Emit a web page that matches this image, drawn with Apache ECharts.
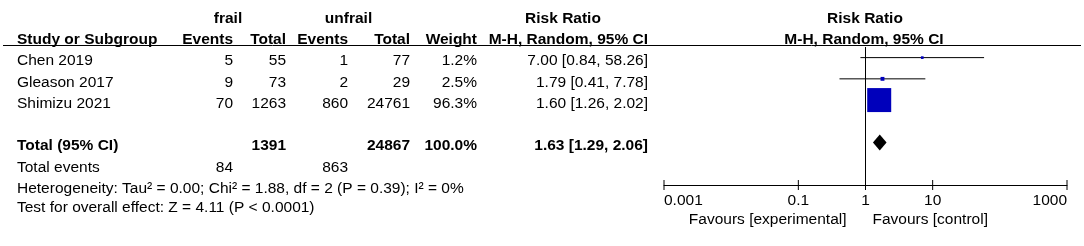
<!DOCTYPE html>
<html><head><meta charset="utf-8">
<script src="https://cdn.jsdelivr.net/npm/echarts@6/dist/echarts.min.js"></script>
<style>html,body{margin:0;padding:0;background:#fff}#c{width:1084px;height:246px}</style>
</head><body><div id="c"></div>
<script>
// ---------- data ----------
const studies = ['Chen 2019', 'Gleason 2017', 'Shimizu 2021'];
const frailEvents = [5, 9, 70];
const frailTotal = [55, 73, 1263];
const unfrailEvents = [1, 2, 860];
const unfrailTotal = [77, 29, 24761];
const weights = [1.2, 2.5, 96.3];
const riskRatio = [7.00, 1.79, 1.60];
const ciLower = [0.84, 0.41, 1.26];
const ciUpper = [58.26, 7.78, 2.02];
const totalLabel = 'Total (95% CI)';
const totalFrail = 1391;
const totalUnfrail = 24867;
const totalWeight = 100.0;
const pooled = [1.63, 1.29, 2.06];
const totalEvents = [84, 863];
const heterogeneityText = 'Heterogeneity: Tau² = 0.00; Chi² = 1.88, df = 2 (P = 0.39); I² = 0%';
const overallEffectText = 'Test for overall effect: Z = 4.11 (P < 0.0001)';
const tickValues = [0.001, 0.1, 1, 10, 1000];
const tickLabels = ['0.001', '0.1', '1', '10', '1000'];
const favoursLeft = 'Favours [experimental]';
const favoursRight = 'Favours [control]';

// ---------- layout ----------
const FONT = '"Liberation Sans", Arial, sans-serif';
const FS = 15.5;
const TEXT_DY = 3.5;
const Y_MIN = 0.5, Y_MAX = 7;
const BOX_MAX = 24;
const BLUE = '#0000bb';
const C = {
  study: [17, 'left'], fe: [233, 'right'], ft: [286, 'right'], ue: [348, 'right'],
  ut: [410, 'right'], w: [477, 'right'], rr: [648, 'right']
};
function cell(text, col) { return { text: String(text), x: C[col][0], align: C[col][1] }; }
function ciText(r, l, h) { return r.toFixed(2) + ' [' + l.toFixed(2) + ', ' + h.toFixed(2) + ']'; }

const tableRows = [];
tableRows.push({ row: -1, bold: true, cells: [
  { text: 'frail', x: 228, align: 'center' },
  { text: 'unfrail', x: 348.5, align: 'center' },
  { text: 'Risk Ratio', x: 563, align: 'center' },
  { text: 'Risk Ratio', x: 865, align: 'center' }
]});
tableRows.push({ row: 0, bold: true, cells: [
  cell('Study or Subgroup', 'study'), cell('Events', 'fe'), cell('Total', 'ft'),
  cell('Events', 'ue'), cell('Total', 'ut'), cell('Weight', 'w'),
  cell('M-H, Random, 95% CI', 'rr'),
  { text: 'M-H, Random, 95% CI', x: 864, align: 'center' }
]});
studies.forEach((s, i) => {
  tableRows.push({ row: i + 1, bold: false, cells: [
    cell(s, 'study'), cell(frailEvents[i], 'fe'), cell(frailTotal[i], 'ft'),
    cell(unfrailEvents[i], 'ue'), cell(unfrailTotal[i], 'ut'),
    cell(weights[i].toFixed(1) + '%', 'w'), cell(ciText(riskRatio[i], ciLower[i], ciUpper[i]), 'rr')
  ]});
});
tableRows.push({ row: 5, bold: true, cells: [
  cell(totalLabel, 'study'), cell(totalFrail, 'ft'), cell(totalUnfrail, 'ut'),
  cell(totalWeight.toFixed(1) + '%', 'w'), cell(ciText(pooled[0], pooled[1], pooled[2]), 'rr')
]});
tableRows.push({ row: 6, bold: false, cells: [
  cell('Total events', 'study'), cell(totalEvents[0], 'fe'), cell(totalEvents[1], 'ue')
]});
tableRows.push({ row: 7, bold: false, cells: [cell(heterogeneityText, 'study')] });
tableRows.push({ row: 7.9, bold: false, cells: [cell(overallEffectText, 'study')] });

function txt(text, x, y, align, bold) {
  return { type: 'text', x: x, y: y, style: {
    text: text, textAlign: align, textVerticalAlign: 'middle',
    fontSize: FS, fontFamily: FONT, fontWeight: bold ? 'bold' : 'normal', fill: '#000'
  }};
}

const chart = echarts.init(document.getElementById('c'), null, { renderer: 'canvas' });
chart.setOption({
  animation: false,
  backgroundColor: '#fff',
  grid: { left: 664, right: 17, top: 47, bottom: 61, containLabel: false },
  xAxis: {
    type: 'log', logBase: 10, min: 0.001, max: 1000,
    axisLine: { show: true, onZero: false, lineStyle: { color: '#000', width: 1 } },
    axisTick: { show: false }, axisLabel: { show: false }, splitLine: { show: false },
    minorTick: { show: false }, minorSplitLine: { show: false }
  },
  yAxis: { type: 'value', min: Y_MIN, max: Y_MAX, inverse: true, show: false, splitLine: { show: false } },
  graphic: [{
    type: 'line', silent: true,
    shape: { x1: 3, y1: 45.5, x2: 1081, y2: 45.5 },
    style: { stroke: '#000', lineWidth: 1 }
  }],
  series: [
    { // reference line at RR = 1
      type: 'custom', silent: true, encode: { x: 0 },
      data: [[1]],
      renderItem: function (params, api) {
        const a = api.coord([api.value(0), Y_MIN]);
        const b = api.coord([api.value(0), Y_MAX]);
        return { type: 'line', shape: { x1: a[0], y1: a[1], x2: b[0], y2: b[1] }, style: { stroke: '#000', lineWidth: 1 } };
      }
    },
    { // study CIs and weight boxes
      type: 'custom', silent: true, encode: { x: 0, y: 1 },
      data: studies.map((s, i) => [riskRatio[i], i + 1, ciLower[i], ciUpper[i], weights[i]]),
      renderItem: function (params, api) {
        const c = api.coord([api.value(0), api.value(1)]);
        const l = api.coord([api.value(2), api.value(1)]);
        const h = api.coord([api.value(3), api.value(1)]);
        const s = Math.max(2, BOX_MAX * Math.sqrt(api.value(4) / Math.max.apply(null, weights)));
        return { type: 'group', children: [
          { type: 'line', shape: { x1: l[0], y1: c[1], x2: h[0], y2: c[1] }, style: { stroke: '#000', lineWidth: 1 } },
          { type: 'rect', shape: { x: c[0] - s / 2, y: c[1] - s / 2, width: s, height: s }, style: { fill: BLUE } }
        ]};
      }
    },
    { // pooled diamond
      type: 'custom', silent: true, encode: { x: 0, y: 1 },
      data: [[pooled[0], 5, pooled[1], pooled[2]]],
      renderItem: function (params, api) {
        const c = api.coord([api.value(0), api.value(1)]);
        const l = api.coord([api.value(2), api.value(1)]);
        const h = api.coord([api.value(3), api.value(1)]);
        return { type: 'polygon', shape: { points: [[l[0], c[1]], [c[0], c[1] - 8], [h[0], c[1]], [c[0], c[1] + 8]] }, style: { fill: '#000' } };
      }
    },
    { // axis ticks and labels
      type: 'custom', silent: true, encode: { x: 0, y: 1 },
      data: tickValues.map((v, i) => [v, Y_MAX, i]),
      renderItem: function (params, api) {
        const p = api.coord([api.value(0), api.value(1)]);
        const i = api.value(2);
        const align = i === 0 ? 'left' : (i === tickValues.length - 1 ? 'right' : 'center');
        return { type: 'group', children: [
          { type: 'line', shape: { x1: p[0], y1: p[1] - 5, x2: p[0], y2: p[1] + 5 }, style: { stroke: '#000', lineWidth: 1 } },
          txt(tickLabels[i], p[0], p[1] + 16, align, false)
        ]};
      }
    },
    { // favours labels
      type: 'custom', silent: true, encode: { x: 0, y: 1 },
      data: [[1, Y_MAX]],
      renderItem: function (params, api) {
        const p = api.coord([api.value(0), api.value(1)]);
        return { type: 'group', children: [
          txt(favoursLeft, p[0] - 19, p[1] + 35, 'right', false),
          txt(favoursRight, p[0] + 7, p[1] + 35, 'left', false)
        ]};
      }
    },
    { // table text
      type: 'custom', silent: true, encode: { x: 0, y: 1 },
      data: tableRows.map((r, i) => [1, r.row, i]),
      renderItem: function (params, api) {
        const r = tableRows[api.value(2)];
        const y = api.coord([1, api.value(1)])[1] + TEXT_DY;
        return { type: 'group', children: r.cells.map(c => txt(c.text, c.x, y, c.align, r.bold)) };
      }
    }
  ]
});
</script></body></html>
